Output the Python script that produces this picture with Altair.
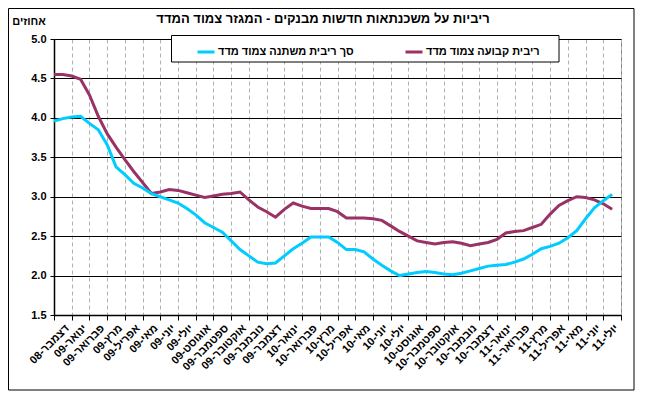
import altair as alt
import pandas as pd

FONT = "Liberation Sans"

title_text = "ריביות על משכנתאות חדשות מבנקים - המגזר צמוד המדד"
unit_text = "אחוזים"

months = [
    "דצמבר-08", "ינואר-09", "פברואר-09", "מרץ-09", "אפריל-09", "מאי-09",
    "יוני-09", "יולי-09", "אוגוסט-09", "ספטמבר-09", "אוקטובר-09", "נובמבר-09",
    "דצמבר-09", "ינואר-10", "פברואר-10", "מרץ-10", "אפריל-10", "מאי-10",
    "יוני-10", "יולי-10", "אוגוסט-10", "ספטמבר-10", "אוקטובר-10", "נובמבר-10",
    "דצמבר-10", "ינואר-11", "פברואר-11", "מרץ-11", "אפריל-11", "מאי-11",
    "יוני-11", "יולי-11",
]

series_names = ["סך ריבית משתנה צמוד מדד", "ריבית קבועה צמוד מדד"]
series_colors = ["#00CCFF", "#993366"]

# half-monthly readings, starting at the beginning of December 2008
variable_rate = [
    3.96, 3.99, 4.01, 4.02, 3.93, 3.85, 3.66, 3.38, 3.28, 3.17, 3.11, 3.04,
    3.00, 2.96, 2.92, 2.85, 2.77, 2.67, 2.61, 2.55, 2.44, 2.33, 2.25, 2.17,
    2.15, 2.16, 2.25, 2.34, 2.41, 2.49, 2.49, 2.49, 2.42, 2.33, 2.33, 2.30,
    2.21, 2.13, 2.06, 2.00, 2.02, 2.04, 2.05, 2.04, 2.02, 2.01, 2.03, 2.06,
    2.09, 2.12, 2.13, 2.14, 2.17, 2.21, 2.27, 2.34, 2.37, 2.41, 2.48, 2.57,
    2.72, 2.86, 2.95, 3.03,
]
fixed_rate = [
    4.55, 4.55, 4.53, 4.49, 4.29, 4.02, 3.80, 3.63, 3.47, 3.32, 3.18, 3.04,
    3.06, 3.09, 3.08, 3.05, 3.02, 2.99, 3.01, 3.03, 3.04, 3.06, 2.96, 2.87,
    2.81, 2.74, 2.84, 2.92, 2.88, 2.85, 2.85, 2.85, 2.81, 2.73, 2.73, 2.73,
    2.72, 2.70, 2.63, 2.56, 2.50, 2.44, 2.42, 2.40, 2.42, 2.43, 2.41, 2.38,
    2.40, 2.42, 2.46, 2.54, 2.56, 2.57, 2.61, 2.65, 2.78, 2.89, 2.95, 3.00,
    2.99, 2.96, 2.91, 2.84,
]

y_ticks = [1.5, 2.0, 2.5, 3.0, 3.5, 4.0, 4.5, 5.0]

rows = []
for name, vals in zip(series_names, [variable_rate, fixed_rate]):
    for i, v in enumerate(vals):
        rows.append({"m": i * 0.5, "v": v, "s": name})
df = pd.DataFrame(rows)

n = len(months)
W, H = 567, 276

label_expr = "datum.value < %d ? [%s][datum.value] : ''" % (
    n, ",".join("'%s'" % m for m in months))

x_axis = alt.Axis(
    values=list(range(n + 1)), labelExpr=label_expr, labelAngle=-45,
    labelOffset=W / n / 2, labelFont=FONT, labelFontSize=11,
    labelFontWeight="bold", labelColor="black", labelPadding=2,
    labelOverlap=False, tickSize=5, tickColor="black", domainColor="black",
    domainWidth=1.5, gridColor="#B0B0B0", gridDash=[4, 3], gridWidth=1,
    title=None,
)
y_axis = alt.Axis(
    values=y_ticks, format=".1f", labelFont=FONT, labelFontSize=11,
    labelFontWeight="bold", labelColor="black", labelPadding=4,
    tickSize=4, tickColor="black", domainColor="black", domainWidth=1.5,
    gridColor="black", gridWidth=1, title=None,
)

x_enc = alt.X("m:Q", scale=alt.Scale(domain=[0, n], nice=False, zero=False), axis=x_axis)
y_enc = alt.Y("v:Q", scale=alt.Scale(domain=[1.5, 5.0], nice=False, zero=False), axis=y_axis)
c_enc = alt.Color(
    "s:N",
    scale=alt.Scale(domain=series_names, range=series_colors),
    legend=alt.Legend(
        orient="none", legendX=142, legendY=3, direction="horizontal",
        title=None, padding=0, columnPadding=45, symbolType="stroke",
        symbolSize=289, symbolStrokeWidth=3, labelFont=FONT,
        labelFontSize=11, labelFontWeight="bold", labelColor="black",
        labelOffset=2, labelLimit=400,
    ),
)

base = alt.Chart(df)
line_fixed = base.transform_filter(alt.datum.s == series_names[1]).mark_line(
    strokeWidth=3).encode(x=x_enc, y=y_enc, color=c_enc)
line_var = base.transform_filter(alt.datum.s == series_names[0]).mark_line(
    strokeWidth=3).encode(x=x_enc, y=y_enc, color=c_enc)

one = alt.Data(values=[{}])
frame = alt.Chart(one).mark_rect(fillOpacity=0, stroke="black", strokeWidth=1).encode(
    x=alt.value(-45.5), x2=alt.value(580), y=alt.value(-30.5), y2=alt.value(351))
legend_box = alt.Chart(one).mark_rect(fill="white", stroke="black", strokeWidth=1).encode(
    x=alt.value(117.5), x2=alt.value(505), y=alt.value(-3.5), y2=alt.value(23))
title = alt.Chart(one).mark_text(
    text=title_text, font=FONT, fontSize=13, fontWeight="bold", color="black",
    align="center", baseline="middle").encode(x=alt.value(269), y=alt.value(-20))
unit = alt.Chart(one).mark_text(
    text=unit_text, font=FONT, fontSize=11, fontWeight="bold", color="black",
    align="center", baseline="middle").encode(x=alt.value(-25), y=alt.value(-17))

chart = alt.layer(frame, line_fixed, line_var, legend_box, title, unit).properties(
    width=W, height=H,
    autosize=alt.AutoSizeParams(type="none"),
    padding={"left": 46, "top": 31, "right": 14, "bottom": 76},
    background="white",
).configure_view(stroke="#808080", strokeWidth=1)

chart.save("out.html", embed_options={"renderer": "svg", "actions": False})
